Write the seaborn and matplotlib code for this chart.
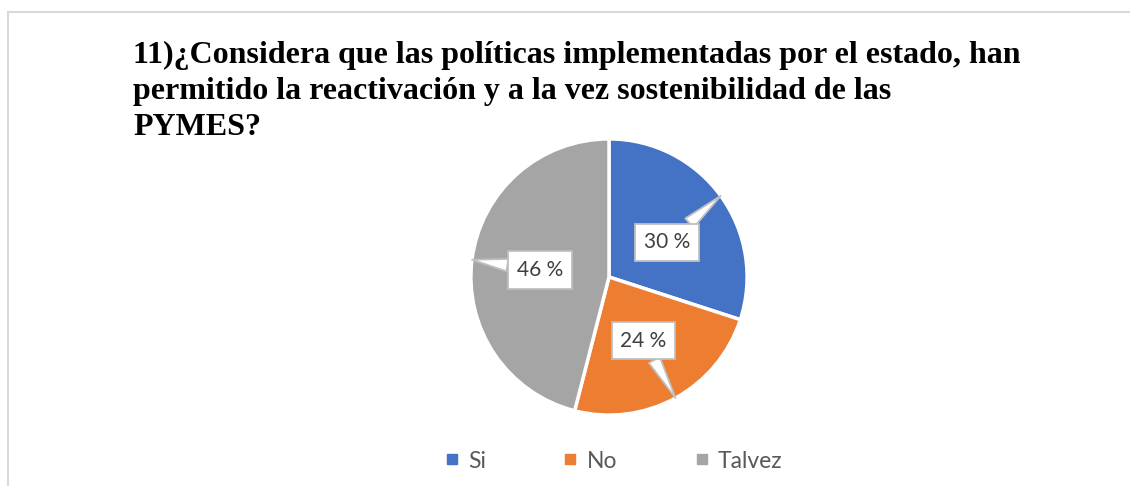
import matplotlib
matplotlib.use("Agg")
import matplotlib.pyplot as plt
import seaborn as sns
import numpy as np
from matplotlib.lines import Line2D

categories = ["Si", "No", "Talvez"]
values = [30, 24, 46]
labels = ["30 %", "24 %", "46 %"]
colors = ["#4472C4", "#ED7D31", "#A5A5A5"]

title = ("11)¿Considera que las políticas implementadas por el estado, han\n"
         "permitido la reactivación y a la vez sostenibilidad de las\n"
         "PYMES?")

sns.set_theme(style="white")
plt.rcParams['font.family'] = ['Lato', 'DejaVu Sans']

fig = plt.figure(figsize=(11.3, 4.86), dpi=100)
ax = fig.add_axes([464 / 1130, 64 / 486, 290 / 1130, 290 / 486])

palette = sns.color_palette(colors)
wedges, _ = ax.pie(values, colors=palette, startangle=90, counterclock=False,
                   wedgeprops=dict(edgecolor="white", linewidth=2.5))
ax.set_xlim(-1.05, 1.05)
ax.set_ylim(-1.05, 1.05)
ax.set_aspect("equal")
ax.axis("off")

# callout labels: tip on the rim at the slice middle, box inside
label_pos = [(0.42, 0.25), (0.25, -0.46), (-0.50, 0.05)]
for w, lab, pos in zip(wedges, labels, label_pos):
    ang = np.deg2rad((w.theta1 + w.theta2) / 2)
    tip = (np.cos(ang), np.sin(ang))
    ax.annotate(lab, xy=tip, xytext=pos, ha="center", va="center",
                fontsize=15, color="#404040",
                bbox=dict(boxstyle="square,pad=0.42", fc="white", ec="#BFBFBF", lw=1.3),
                arrowprops=dict(arrowstyle="wedge,tail_width=0.6,shrink_factor=0.5",
                                fc="white", ec="#BFBFBF", lw=1.3,
                                shrinkA=0, shrinkB=0))

fig.text(133 / 1130, 1 - 41 / 486, title, ha="left", va="top",
         family="Liberation Serif", fontweight="bold", fontsize=23,
         color="black", linespacing=1.31)

handles = [Line2D([], [], marker="s", linestyle="none", markersize=7,
                  markerfacecolor=c, markeredgecolor=c) for c in palette]
fig.legend(handles, categories, loc="center", bbox_to_anchor=(0.543, 25 / 486),
           ncol=3, frameon=False, fontsize=16.5, labelcolor="#595959",
           handletextpad=0.4, columnspacing=3.4, handlelength=0.6)

# chart area border (top and left edges visible)
border = "#D9D9D9"
fig.add_artist(Line2D([7.5 / 1130, 1.0], [1 - 12.5 / 486] * 2,
                      transform=fig.transFigure, color=border, lw=1.5))
fig.add_artist(Line2D([7.5 / 1130] * 2, [0.0, 1 - 12.5 / 486],
                      transform=fig.transFigure, color=border, lw=1.5))

fig.savefig("out.png", dpi=100, facecolor="white")
